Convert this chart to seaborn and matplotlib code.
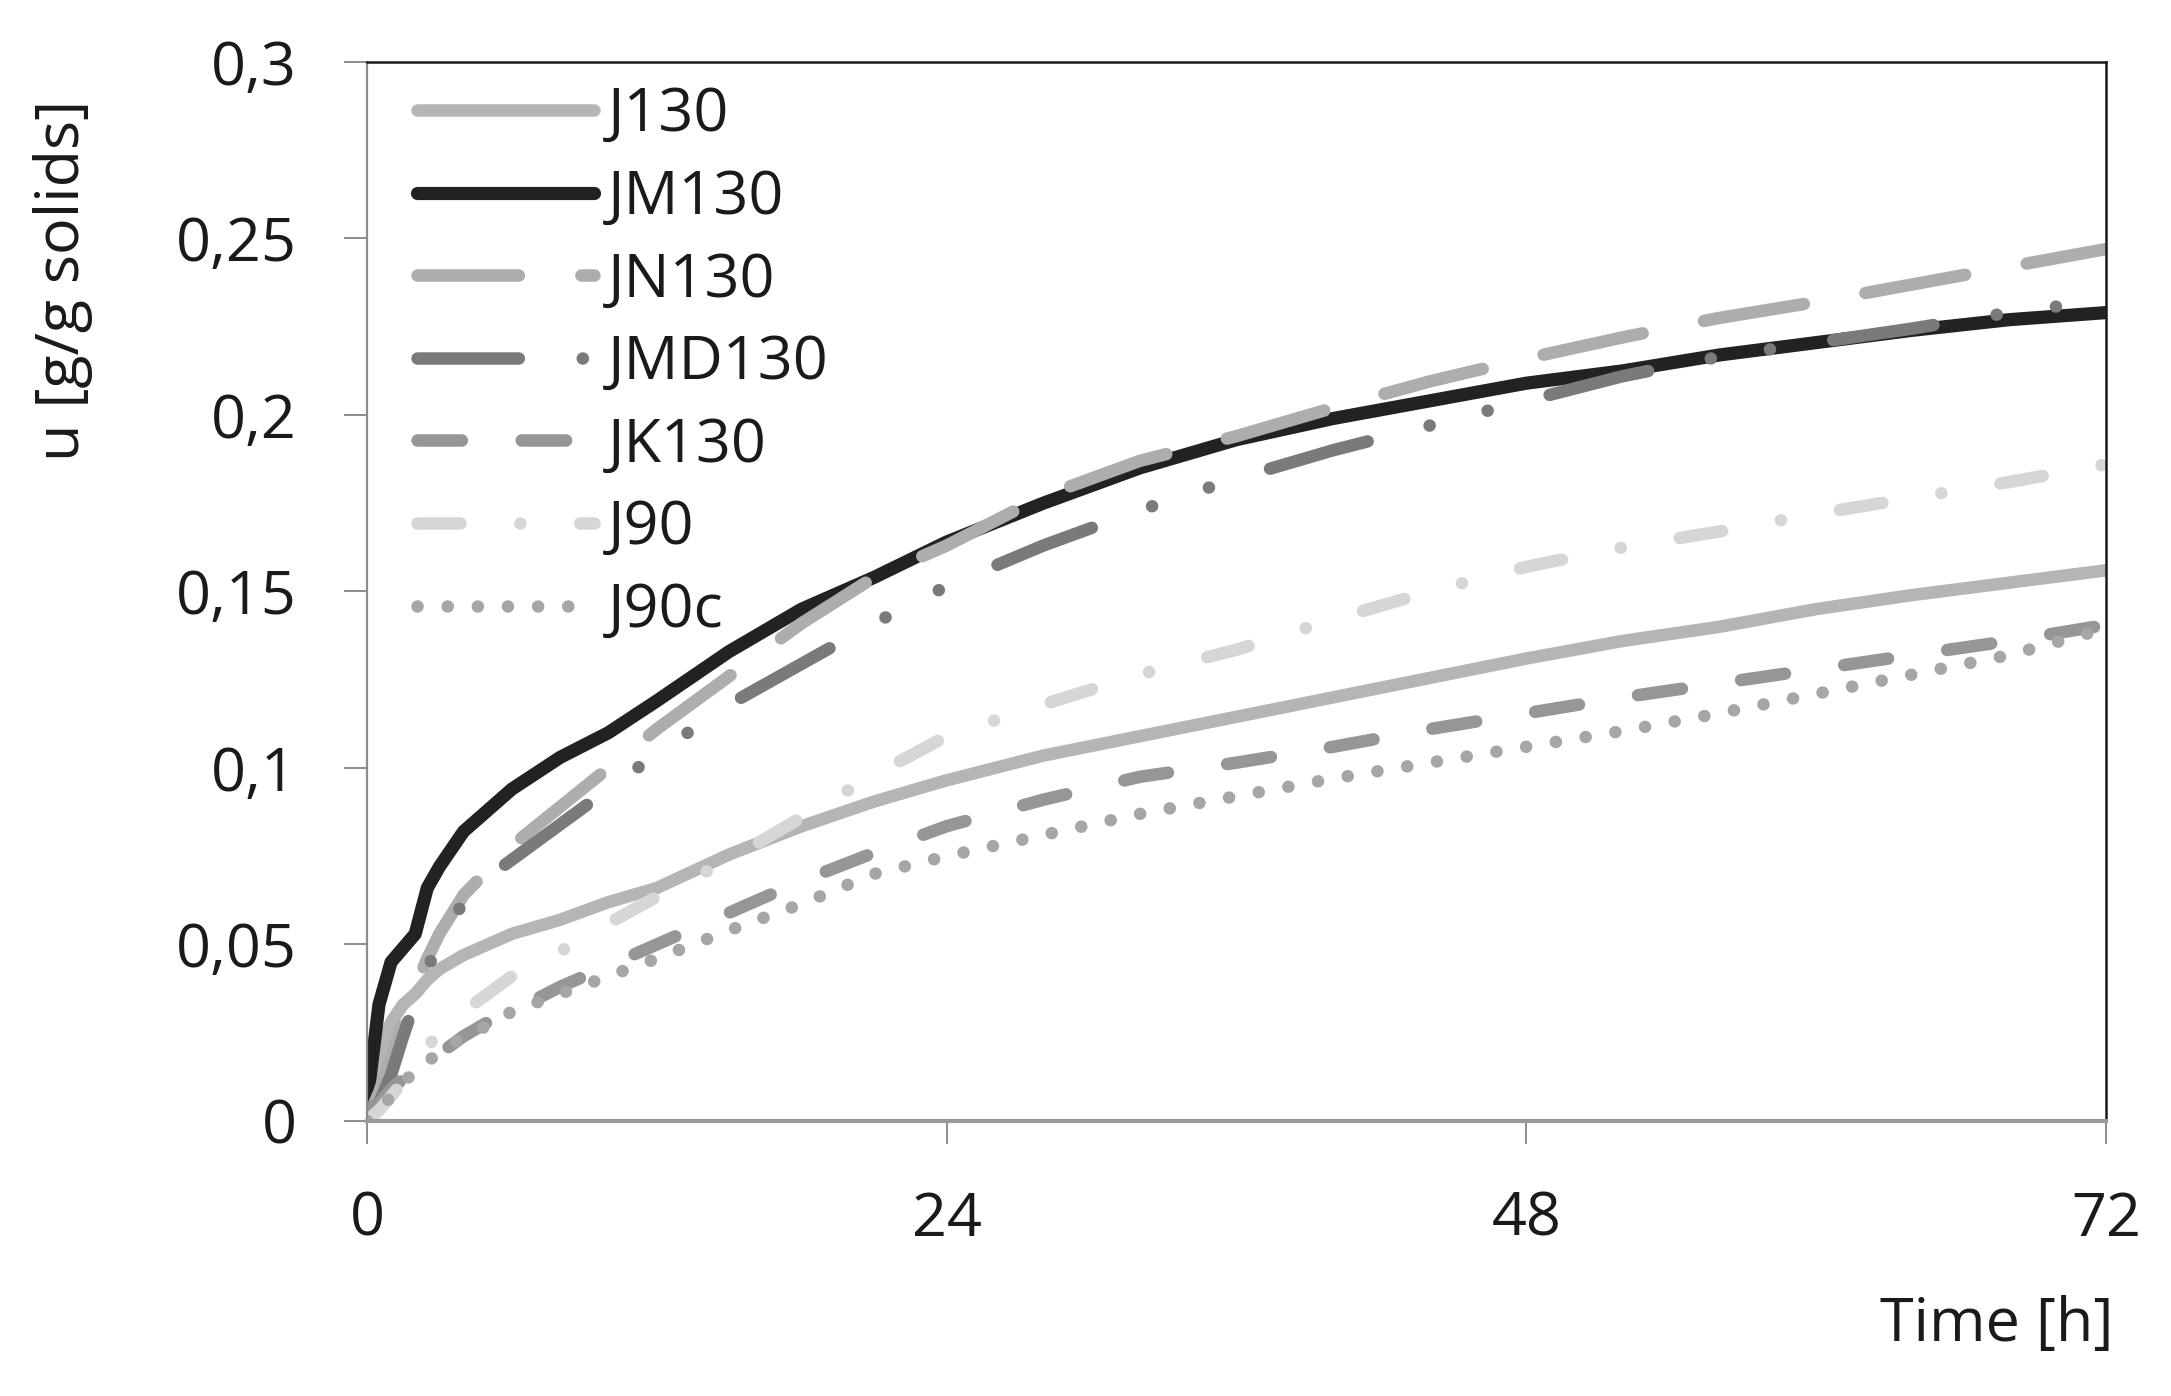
import numpy as np
import pandas as pd
import matplotlib
matplotlib.use("Agg")
import matplotlib.pyplot as plt
import seaborn as sns
from matplotlib.ticker import FixedLocator, FuncFormatter

# ---------------- data ----------------
time_h = [0, 0.5, 1, 1.5, 2, 2.5, 3, 4, 5, 6, 8, 10, 12, 15, 18, 21, 24,
          28, 32, 36, 40, 44, 48, 52, 56, 60, 64, 68, 72]

J130 = [0.003, 0.018, 0.028, 0.033, 0.036, 0.040, 0.043, 0.047, 0.050, 0.053,
        0.057, 0.062, 0.066, 0.0755, 0.0835, 0.0905, 0.0965, 0.1035, 0.109,
        0.1145, 0.120, 0.1255, 0.131, 0.136, 0.140, 0.145, 0.149, 0.1525, 0.156]
JM130 = [0.005, 0.033, 0.045, 0.049, 0.053, 0.066, 0.072, 0.082, 0.088, 0.094,
         0.103, 0.110, 0.119, 0.133, 0.145, 0.154, 0.164, 0.175, 0.185, 0.193,
         0.199, 0.204, 0.209, 0.2125, 0.217, 0.2205, 0.224, 0.227, 0.229]
JN130 = [0.0, 0.008, 0.018, 0.028, 0.038, 0.046, 0.053, 0.064, 0.071, 0.078,
         0.089, 0.100, 0.111, 0.126, 0.141, 0.154, 0.163, 0.177, 0.187, 0.194,
         0.202, 0.2095, 0.216, 0.222, 0.2275, 0.232, 0.237, 0.242, 0.247]
JMD130 = [0.003, 0.005, 0.013, 0.024, 0.034, 0.043, 0.051, 0.062, 0.069, 0.074,
          0.084, 0.094, 0.104, 0.118, 0.1295, 0.141, 0.1515, 0.163, 0.173,
          0.182, 0.190, 0.197, 0.204, 0.211, 0.2165, 0.2205, 0.2245, 0.229, 0.2325]
JK130 = [0.003, 0.005, 0.009, 0.012, 0.015, 0.017, 0.019, 0.024, 0.028, 0.031,
         0.038, 0.044, 0.050, 0.059, 0.068, 0.076, 0.0835, 0.091, 0.0975,
         0.1015, 0.106, 0.111, 0.1155, 0.120, 0.124, 0.128, 0.132, 0.136, 0.1405]
J90 = [0.0, 0.003, 0.007, 0.011, 0.017, 0.021, 0.025, 0.031, 0.036, 0.041,
       0.048, 0.056, 0.0635, 0.074, 0.086, 0.098, 0.109, 0.118, 0.1265, 0.1335,
       0.142, 0.150, 0.157, 0.1625, 0.167, 0.172, 0.1765, 0.181, 0.186]
J90c = [0.0, 0.003, 0.007, 0.011, 0.014, 0.017, 0.019, 0.024, 0.027, 0.031,
        0.036, 0.041, 0.046, 0.054, 0.0615, 0.070, 0.075, 0.081, 0.087, 0.092,
        0.097, 0.1015, 0.106, 0.1105, 0.1155, 0.121, 0.1265, 0.132, 0.1395]

series_names = ["J130", "JM130", "JN130", "JMD130", "JK130", "J90", "J90c"]
series_values = [J130, JM130, JN130, JMD130, JK130, J90, J90c]

x_ticks = [0, 24, 48, 72]
y_ticks = [0, 0.05, 0.1, 0.15, 0.2, 0.25, 0.3]

# ---------------- styles ----------------
colors = {"J130": "#b5b5b5", "JM130": "#222222", "JN130": "#adadad",
          "JMD130": "#7a7a7a", "JK130": "#969696", "J90": "#d6d6d6",
          "J90c": "#a6a6a6"}
dash_styles = {"J130": None, "JM130": None,
               "JN130": (73, 45),
               "JMD130": (73, 46, 0.1, 43, 0.1, 46),
               "JK130": (32, 43),
               "J90": (31, 43, 0.1, 43),
               "J90c": (0.1, 21.6)}
widths = {"JM130": 9.5}

sns.set_theme(style="white")
plt.rcParams["font.family"] = ["Open Sans", "DejaVu Sans"]
plt.rcParams["lines.scale_dashes"] = False
plt.rcParams["text.color"] = "#1a1a1a"

fig = plt.figure(figsize=(21.71, 13.96), dpi=100)
ax = fig.add_axes([0.169, 0.197, 0.801, 0.7586])

for name, vals in zip(series_names, series_values):
    df = pd.DataFrame({"t": time_h, "u": vals})
    sns.lineplot(data=df, x="t", y="u", ax=ax, color=colors[name],
                 linewidth=widths.get(name, 9), label=name,
                 solid_capstyle="round", solid_joinstyle="round")
    line = ax.lines[-1]
    if dash_styles[name] is not None:
        line.set_dashes(dash_styles[name])
        line.set_dash_capstyle("round")
    line.set_solid_capstyle("round")

ax.set_xlim(0, 72)
ax.set_ylim(0, 0.3)
ax.xaxis.set_major_locator(FixedLocator(x_ticks))
ax.yaxis.set_major_locator(FixedLocator(y_ticks))
ax.yaxis.set_major_formatter(FuncFormatter(lambda v, p: ("%g" % v).replace(".", ",")))

for s in ["top", "right"]:
    ax.spines[s].set_color("#1a1a1a")
    ax.spines[s].set_linewidth(1.8)
ax.spines["left"].set_color("#8c8c8c")
ax.spines["left"].set_linewidth(1.6)
ax.spines["bottom"].set_color("#9a9a9a")
ax.spines["bottom"].set_linewidth(3.0)

ax.tick_params(axis="both", which="major", direction="out", length=16.5,
               width=1.4, color="#8c8c8c", labelsize=44, labelcolor="#1a1a1a")
ax.tick_params(axis="x", pad=33, bottom=True)
ax.tick_params(axis="y", pad=34, left=True)

ax.set_xlabel("Time [h]", fontsize=44, color="#1a1a1a")
ax.xaxis.set_label_coords(0.937, -0.193)
ax.xaxis.label.set_va("center")
ax.set_ylabel("u [g/g solids]", fontsize=44, color="#1a1a1a")
ax.yaxis.set_label_coords(-0.175, 0.794)
ax.yaxis.label.set_va("center")

ax.legend(loc="upper left", bbox_to_anchor=(0.0288, 0.978), frameon=False,
          fontsize=44, handlelength=2.9, handletextpad=0.23,
          labelspacing=0.37, borderpad=0, borderaxespad=0)

fig.savefig("out.png", dpi=100, facecolor="white")
